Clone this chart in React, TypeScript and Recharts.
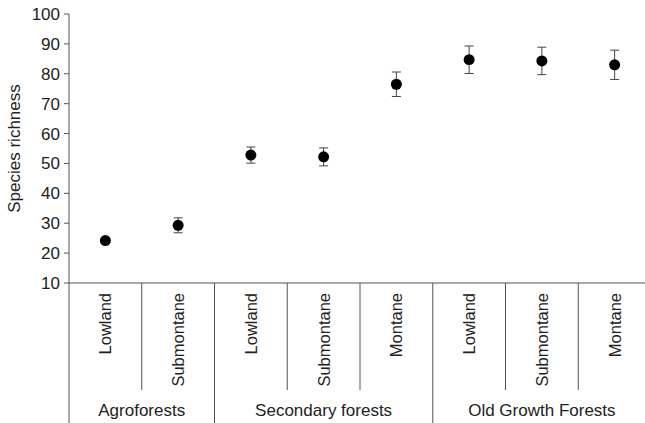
import { ScatterChart, Scatter, XAxis, YAxis, ErrorBar } from 'recharts';

const categories = ['Lowland', 'Submontane', 'Lowland', 'Submontane', 'Montane', 'Lowland', 'Submontane', 'Montane'];
const richness = [24.2, 29.3, 52.8, 52.2, 76.5, 84.7, 84.3, 83.0];
const stdErr = [1.0, 2.5, 2.7, 3.0, 4.1, 4.6, 4.6, 4.9];
const groups = ['Agroforests', 'Secondary forests', 'Old Growth Forests'];
const groupSizes = [2, 3, 3];
const yTicks = [10, 20, 30, 40, 50, 60, 70, 80, 90, 100];

const points = richness.map((v, i) => ({ x: i + 0.5, y: v, err: stdErr[i] }));

// group start positions and centres along the category axis
const groupStarts: number[] = [];
groupSizes.reduce((acc, n) => {
  groupStarts.push(acc);
  return acc + n;
}, 0);
const groupCentres = groupStarts.map((s, i) => s + groupSizes[i] / 2);

const xTicks: number[] = [];
for (let i = 0; i <= categories.length * 2; i++) xTicks.push(i / 2);

const LINE = '#555';
const TEXT = '#222';

const CategoryTick = (props: any) => {
  const { x, y, payload } = props;
  const v = payload.value;
  const parts: any[] = [];
  if (Number.isInteger(v)) {
    const long = v === 0 || groupStarts.includes(v) || v === categories.length;
    parts.push(<line key="l" x1={x} y1={y} x2={x} y2={y + (long ? 145 : 107)} stroke={LINE} strokeWidth={1} />);
  } else {
    const idx = Math.floor(v);
    parts.push(
      <text key="c" x={x + 6} y={y + 10} transform={`rotate(-90 ${x + 6} ${y + 10})`} textAnchor="end" fontSize={16.5} fill={TEXT}>
        {categories[idx]}
      </text>
    );
  }
  const g = groupCentres.indexOf(v);
  if (g >= 0) {
    parts.push(
      <text key="g" x={x} y={y + 133} textAnchor="middle" fontSize={17} fill={TEXT}>
        {groups[g]}
      </text>
    );
  }
  return <g>{parts}</g>;
};

const Dot = (props: any) => <circle cx={props.cx} cy={props.cy} r={5.5} fill="#000" />;

const App = () => {
  return (
    <div style={{ position: 'absolute', left: 0, top: 0, width: 645, height: 423, overflow: 'hidden', background: '#fff', fontFamily: '"Liberation Sans", Arial, sans-serif' }}>
      <ScatterChart width={660} height={423} margin={{ top: 14, right: 9, bottom: 0, left: 0 }}>
        <XAxis
          dataKey="x"
          type="number"
          domain={[0, categories.length]}
          ticks={xTicks}
          interval={0}
          height={140}
          tickSize={0}
          tickMargin={0}
          tickLine={false}
          axisLine={{ stroke: LINE }}
          tick={<CategoryTick />}
        />
        <YAxis
          dataKey="y"
          type="number"
          domain={[10, 100]}
          ticks={yTicks}
          interval={0}
          width={69}
          tickSize={5}
          tickMargin={4}
          axisLine={{ stroke: LINE }}
          tickLine={{ stroke: LINE }}
          tick={{ fill: TEXT, fontSize: 17 }}
          label={{
            content: () => (
              <text x={20} y={148.5} transform="rotate(-90 20 148.5)" textAnchor="middle" fontSize={17} fill={TEXT}>
                Species richness
              </text>
            ),
          }}
        />
        <Scatter data={points} shape={<Dot />} isAnimationActive={false}>
          <ErrorBar dataKey="err" direction="y" width={4.5} stroke="#444" strokeWidth={1} />
        </Scatter>
      </ScatterChart>
    </div>
  );
};

export default App;
